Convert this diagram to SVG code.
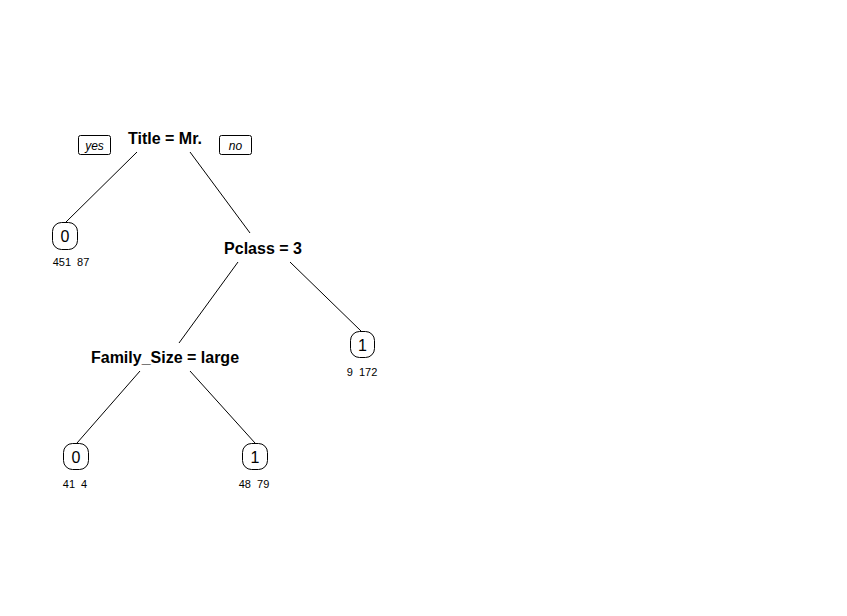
<svg xmlns="http://www.w3.org/2000/svg" width="847" height="616" viewBox="0 0 847 616">
<style>
.split{font-family:"Liberation Sans",Arial,sans-serif;font-weight:bold;font-size:16px;fill:#000;text-anchor:middle}
.leaf{font-family:"Liberation Sans",Arial,sans-serif;font-size:16px;fill:#000;text-anchor:middle}
.cnt{font-family:"Liberation Sans",Arial,sans-serif;font-size:11px;fill:#000;text-anchor:middle;white-space:pre}
.yn{font-family:"Liberation Sans",Arial,sans-serif;font-style:italic;font-size:12px;fill:#000;text-anchor:middle}
.box{fill:#fff;stroke:#000;stroke-width:1}
.lbox{fill:#fff;stroke:#000;stroke-width:1}
.edge{stroke:#000;stroke-width:1;fill:none}
</style>
<rect width="847" height="616" fill="#fff"/>
<g id="connectors">
<line class="edge" x1="137" y1="152" x2="66" y2="222"/>
<line class="edge" x1="190" y1="152" x2="250" y2="233"/>
<line class="edge" x1="238" y1="262" x2="179" y2="343"/>
<line class="edge" x1="290" y1="262" x2="361" y2="331"/>
<line class="edge" x1="140" y1="371" x2="77" y2="443"/>
<line class="edge" x1="190" y1="371" x2="255" y2="443"/>
</g>
<g id="yes-label">
<rect class="box" x="78.5" y="135.5" width="32" height="19" rx="2"/>
<text class="yn" x="94.5" y="149.5">yes</text>
</g>
<g id="no-label">
<rect class="box" x="219.5" y="135.5" width="32" height="19" rx="2"/>
<text class="yn" x="235.5" y="149.5">no</text>
</g>
<g id="node-title">
<text class="split" x="165" y="144">Title = Mr.</text>
</g>
<g id="leaf-1">
<rect class="lbox" x="52.5" y="222.5" width="25" height="27" rx="9"/>
<text class="leaf" x="65" y="242">0</text>
<text class="cnt" x="71" y="266" xml:space="preserve">451  87</text>
</g>
<g id="node-pclass">
<text class="split" x="263" y="254">Pclass = 3</text>
</g>
<g id="leaf-2">
<rect class="lbox" x="350.5" y="331.5" width="24" height="26" rx="9"/>
<text class="leaf" x="362.5" y="350.5">1</text>
<text class="cnt" x="362" y="376" xml:space="preserve">9  172</text>
</g>
<g id="node-family">
<text class="split" x="165" y="363">Family_Size = large</text>
</g>
<g id="leaf-3">
<rect class="lbox" x="63.5" y="443.5" width="25" height="26" rx="9"/>
<text class="leaf" x="76" y="462.5">0</text>
<text class="cnt" x="75" y="488" xml:space="preserve">41  4</text>
</g>
<g id="leaf-4">
<rect class="lbox" x="242.5" y="443.5" width="25" height="26" rx="9"/>
<text class="leaf" x="255" y="462.5">1</text>
<text class="cnt" x="254" y="488" xml:space="preserve">48  79</text>
</g>
</svg>
